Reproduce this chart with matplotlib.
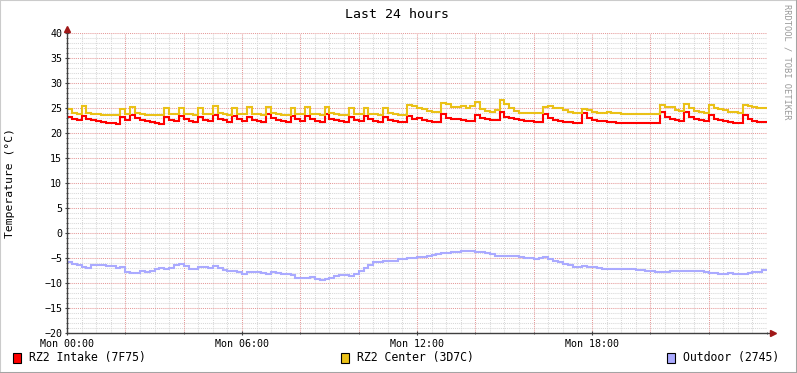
import numpy as np
import matplotlib
matplotlib.use('Agg')  # no display
import matplotlib.pyplot as plt
from matplotlib.patches import Rectangle

# ------------------------------------------------------------------ data --
# 10 minute samples over 24 hours, degrees C
intake = [
    23.2, 22.8, 22.6, 23.5, 22.9, 22.7, 22.5, 22.3, 22.1, 22.0, 21.9, 23.3,
    22.6, 23.7, 23.0, 22.7, 22.4, 22.2, 22.0, 21.9, 23.3, 22.7, 22.4, 23.4,
    22.8, 22.5, 22.3, 23.3, 22.7, 22.4, 23.6, 22.9, 22.6, 22.3, 23.4, 22.8,
    22.5, 23.3, 22.7, 22.5, 22.3, 23.9, 23.0, 22.7, 22.4, 22.2, 23.4, 22.8,
    22.5, 23.5, 22.8, 22.5, 22.3, 23.8, 22.9, 22.6, 22.4, 22.2, 23.3, 22.7,
    22.5, 23.4, 22.8, 22.5, 22.3, 23.3, 22.7, 22.5, 22.3, 22.2, 23.4, 22.9,
    23.0, 22.6, 22.4, 22.3, 22.2, 23.8, 23.1, 22.9, 22.8, 22.7, 22.5, 22.4,
    23.7, 23.1, 22.9, 22.7, 22.6, 24.3, 23.3, 23.0, 22.8, 22.6, 22.5, 22.4,
    22.3, 22.3, 23.9, 23.0, 22.6, 22.4, 22.3, 22.2, 22.1, 22.1, 24.1, 23.0,
    22.7, 22.5, 22.4, 22.3, 22.2, 22.1, 22.1, 22.0, 22.0, 22.0, 22.0, 22.0,
    22.0, 22.0, 24.3, 23.3, 22.9, 22.6, 22.4, 24.3, 23.2, 22.8, 22.6, 22.4,
    23.7, 22.9, 22.7, 22.4, 22.2, 22.1, 22.0, 23.6, 22.8, 22.4, 22.3, 22.2,
]
center = [
    24.9, 24.0, 23.9, 25.5, 24.0, 23.9, 23.8, 23.7, 23.7, 23.6, 23.6, 24.8,
    23.9, 25.2, 24.0, 23.8, 23.7, 23.7, 23.6, 23.6, 25.1, 23.9, 23.8, 25.0,
    23.9, 23.8, 23.7, 25.0, 23.9, 23.8, 25.4, 24.0, 23.8, 23.7, 25.1, 23.9,
    23.8, 25.2, 23.9, 23.8, 23.7, 25.3, 24.0, 23.8, 23.7, 23.7, 25.1, 23.9,
    23.8, 25.2, 23.9, 23.8, 23.7, 25.3, 24.0, 23.8, 23.7, 23.7, 25.1, 23.9,
    23.8, 25.1, 23.9, 23.8, 23.7, 25.1, 24.0, 23.8, 23.7, 23.7, 25.6, 25.5,
    25.0, 24.8, 24.4, 24.2, 24.2, 26.1, 25.8, 25.2, 25.2, 25.4, 25.1, 25.5,
    26.2, 24.8, 24.5, 24.3, 24.6, 26.6, 25.9, 25.0, 24.4, 24.1, 24.0, 24.0,
    24.0, 24.0, 25.3, 25.4, 25.1, 25.1, 24.6, 24.2, 24.0, 24.0, 24.9, 24.6,
    24.3, 24.1, 24.1, 24.3, 24.1, 24.0, 23.9, 23.9, 23.9, 23.9, 23.8, 23.8,
    23.8, 23.8, 25.7, 25.2, 25.2, 24.7, 24.5, 25.8, 25.0, 24.5, 24.3, 24.1,
    25.6, 25.0, 24.9, 24.6, 24.3, 24.2, 24.0, 25.6, 25.5, 25.2, 25.1, 25.1,
]
outdoor = [
    -5.8, -6.1, -6.4, -6.8, -7.0, -6.4, -6.4, -6.4, -6.5, -6.6, -7.0, -6.8,
    -7.7, -8.0, -7.9, -7.5, -7.7, -7.5, -7.1, -7.0, -7.1, -6.9, -6.4, -6.2,
    -6.5, -7.1, -7.2, -6.8, -6.8, -6.9, -6.6, -7.0, -7.3, -7.5, -7.6, -7.8,
    -8.2, -7.8, -7.7, -7.7, -7.9, -8.2, -7.8, -7.9, -8.1, -8.2, -8.4, -8.9,
    -9.0, -9.0, -8.7, -9.2, -9.4, -9.2, -8.9, -8.6, -8.4, -8.4, -8.5, -8.1,
    -7.6, -7.0, -6.4, -5.8, -5.7, -5.6, -5.5, -5.5, -5.2, -5.1, -5.0, -4.9,
    -4.8, -4.7, -4.5, -4.3, -4.1, -4.0, -3.9, -3.7, -3.7, -3.6, -3.5, -3.5,
    -3.7, -3.8, -3.9, -4.1, -4.5, -4.6, -4.5, -4.6, -4.6, -4.8, -4.9, -5.0,
    -5.1, -4.9, -4.8, -5.2, -5.5, -5.8, -6.1, -6.4, -6.8, -6.8, -6.6, -6.7,
    -6.8, -6.9, -7.2, -7.2, -7.1, -7.1, -7.1, -7.2, -7.1, -7.3, -7.4, -7.5,
    -7.6, -7.7, -7.7, -7.7, -7.6, -7.5, -7.5, -7.5, -7.5, -7.5, -7.5, -7.7,
    -7.9, -8.0, -8.1, -8.1, -8.0, -8.1, -8.2, -8.1, -7.9, -7.8, -7.7, -7.3,
]
series_names  = ['RZ2 Intake (7F75)', 'RZ2 Center (3D7C)', 'Outdoor (2745)']
series_colors = ['#ff0000', '#eac117', '#aaaaff']
x_labels      = ['Mon 00:00', 'Mon 06:00', 'Mon 12:00', 'Mon 18:00']

# ----------------------------------------------------------------- figure --
W, H = 797, 373
plt.rcParams['font.family'] = 'DejaVu Sans Mono'
fig = plt.figure(figsize=(W / 100, H / 100), dpi=100)
fig.patch.set_facecolor('white')

# frame around the picture
fig.add_artist(Rectangle((0, 0), 1, 1, transform=fig.transFigure,
                         fill=False, ec='#cbcbcb', lw=1.5))
fig.add_artist(plt.Line2D([0, 1], [0.5 / H, 0.5 / H], color='#a0a0a0', lw=2))
fig.add_artist(plt.Line2D([1 - 0.5 / W, 1 - 0.5 / W], [0, 1], color='#a0a0a0', lw=2))

ax = fig.add_axes([67 / W, 40 / H, 700 / W, 300 / H])
ax.set_xlim(0, 24)
ax.set_ylim(-20, 40)
for s in ax.spines.values():
    s.set_visible(False)

# grid, dotted like rrdtool
dots = (0, (1, 1))
for v in np.arange(-20, 41, 1):
    major = v % 5 == 0
    ax.axhline(v, color='#e59a9a' if major else '#d8d8d8', lw=0.75,
               ls=dots, zorder=1 if major else 0)
for h in np.arange(0, 24.01, 0.5):
    major = h % 2 == 0
    ax.axvline(h, color='#e59a9a' if major else '#d8d8d8', lw=0.75,
               ls=dots, zorder=1 if major else 0)

# series as step lines
hours = np.arange(len(intake) + 1) / 6.0
for vals, col in zip([intake, center, outdoor], series_colors):
    ax.plot(hours, list(vals) + [vals[-1]], drawstyle='steps-post',
            color=col, lw=1.5, zorder=3, solid_joinstyle='miter')

# axes with arrowheads
axis_col, arrow_col = '#404040', '#a01818'
ax.plot([0, 1.008], [0, 0], transform=ax.transAxes, color=axis_col,
        lw=1, clip_on=False, zorder=4)
ax.plot([0, 0], [0, 1.013], transform=ax.transAxes, color=axis_col,
        lw=1, clip_on=False, zorder=4)
ax.plot([1.008], [0], transform=ax.transAxes, marker='>', ms=4.5,
        color=arrow_col, clip_on=False, zorder=5)
ax.plot([0], [1.013], transform=ax.transAxes, marker='^', ms=4.5,
        color=arrow_col, clip_on=False, zorder=5)

# ticks
ax.set_yticks(np.arange(-20, 41, 5))
ax.set_yticks(np.arange(-20, 41, 1), minor=True)
ax.set_xticks([0, 6, 12, 18])
ax.set_xticklabels(x_labels)
ax.set_xticks(np.arange(0, 24.01, 2), minor=True)
ax.tick_params(axis='both', which='major', labelsize=7.2, length=3,
               width=0.8, color=axis_col, direction='inout', pad=2)
ax.tick_params(axis='both', which='minor', length=2, width=0.6,
               color=axis_col, direction='inout')
ax.tick_params(axis='x', which='major', pad=3)

# texts
fig.text(397 / W, 1 - 14 / H, 'Last 24 hours', ha='center', va='center',
         fontsize=9.5)
fig.text(10 / W, 1 - 183 / H, 'Temperature (°C)', ha='center', va='center',
         rotation=90, fontsize=8.2)
fig.text(787 / W, 1 - 4 / H, 'RRDTOOL / TOBI OETIKER', ha='center', va='top',
         rotation=270, fontsize=6.3, color='#999999')

# legend: square + label
legend_x = [13, 341, 667]
for lx, name, col in zip(legend_x, series_names, series_colors):
    fig.add_artist(Rectangle((lx / W, 10 / H), 8 / W, 10 / H,
                             transform=fig.transFigure, fc=col, ec='black',
                             lw=0.8))
    fig.text((lx + 16) / W, 15 / H, name, ha='left', va='center',
             fontsize=8.3)

fig.savefig('out.png', dpi=100, facecolor=fig.get_facecolor())
